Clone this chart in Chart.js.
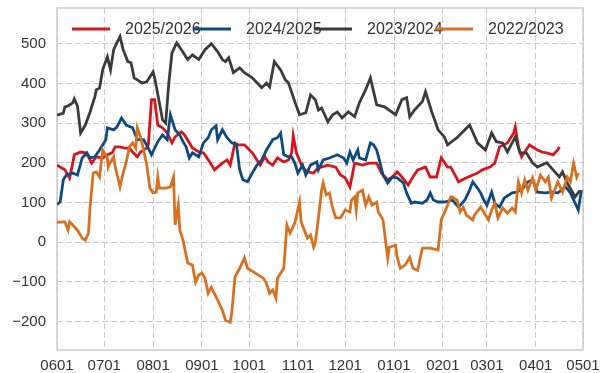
<!DOCTYPE html>
<html>
<head>
<meta charset="utf-8">
<script src="https://cdn.jsdelivr.net/npm/chart.js@4.4.1/dist/chart.umd.min.js"></script>
<style>
    html, body { margin: 0; padding: 0; background: #fff; }
    #wrap { width: 601px; height: 373px; }
</style>
</head>
<body>
<div id="wrap"><canvas id="seasonChart" width="601" height="373"></canvas></div>
<script>
// 各季資料：[距 6/1 天數, 數值]
const season2526 = [[0,194],[5,182],[8,161],[10,199],[11,220],[15,227],[18,225],[20,215],[22,199],[25,215],[29,212],[32,220],[35,225],[37,240],[40,240],[43,237],[46,237],[48,227],[51,215],[53,227],[57,237],[58,245],[60,359],[62,359],[64,295],[67,288],[70,275],[73,250],[75,265],[79,278],[81,270],[86,237],[90,227],[93,225],[97,202],[100,182],[105,199],[108,207],[110,194],[113,250],[115,245],[119,245],[124,225],[129,194],[132,215],[134,202],[137,194],[140,212],[144,202],[147,207],[149,225],[150,268],[152,225],[156,187],[159,177],[163,174],[166,189],[168,189],[172,194],[177,189],[180,169],[183,162],[186,139],[189,199],[194,194],[198,199],[203,199],[206,174],[210,157],[213,164],[216,177],[219,164],[223,144],[226,164],[229,182],[234,189],[237,164],[241,164],[244,212],[248,189],[250,189],[255,152],[260,162],[267,174],[270,182],[275,189],[278,199],[281,240],[286,250],[290,275],[291,290],[293,240],[295,215],[300,245],[305,232],[308,227],[311,225],[315,220],[318,232],[319,240]];
const season2425 = [[0,95],[2,101],[4,157],[6,169],[10,174],[13,169],[16,212],[19,225],[21,212],[24,215],[27,232],[31,258],[32,288],[36,283],[38,290],[41,313],[44,295],[48,288],[51,258],[55,258],[58,237],[60,220],[64,253],[67,270],[70,258],[72,321],[75,283],[78,270],[80,253],[82,240],[84,212],[86,225],[90,215],[93,250],[96,263],[98,283],[101,293],[102,258],[105,283],[108,263],[111,250],[114,245],[116,182],[118,157],[121,152],[124,174],[127,194],[130,207],[133,232],[137,258],[140,263],[142,275],[144,220],[147,215],[149,215],[151,199],[153,174],[156,194],[158,169],[161,194],[165,202],[166,182],[169,207],[173,212],[178,220],[182,212],[184,199],[186,227],[188,207],[191,232],[192,212],[196,207],[199,250],[201,245],[203,232],[205,202],[207,169],[210,149],[213,164],[216,162],[220,149],[222,124],[225,98],[227,101],[232,98],[235,106],[237,124],[239,106],[242,101],[246,101],[251,106],[255,88],[259,106],[262,131],[264,152],[267,136],[269,124],[271,106],[273,93],[276,126],[278,98],[281,88],[284,111],[289,124],[292,126],[296,136],[299,152],[302,157],[305,126],[310,124],[314,126],[318,124],[323,139],[326,124],[329,98],[331,81],[333,131]];
const season2324 = [[0,320],[4,325],[5,341],[7,343],[10,351],[11,361],[13,343],[15,275],[18,295],[21,328],[24,366],[25,384],[27,388],[29,434],[32,467],[34,434],[36,485],[38,502],[40,518],[42,485],[45,455],[47,452],[49,414],[51,409],[54,401],[57,404],[61,429],[62,414],[65,351],[67,308],[69,300],[71,401],[73,477],[76,502],[79,485],[83,460],[86,472],[90,460],[94,485],[98,500],[102,480],[105,460],[107,455],[109,465],[112,427],[116,439],[119,427],[124,414],[130,389],[133,401],[135,391],[138,455],[142,434],[145,409],[147,401],[151,354],[154,321],[158,326],[161,371],[164,359],[166,333],[168,338],[172,303],[175,321],[178,328],[181,313],[185,328],[189,316],[192,351],[196,384],[199,414],[203,346],[208,341],[215,321],[219,359],[222,364],[224,316],[227,333],[232,354],[234,379],[238,328],[242,283],[246,265],[248,245],[254,263],[262,295],[267,250],[272,232],[276,275],[279,253],[283,250],[286,227],[291,265],[294,225],[298,225],[302,200],[305,189],[311,200],[315,182],[319,164],[321,177],[324,149],[329,114],[332,130]];
const season2223 = [[0,50],[5,51],[7,30],[8,51],[10,43],[13,30],[16,10],[18,5],[20,23],[21,89],[23,174],[25,177],[27,164],[29,232],[32,212],[32.5,189],[34,202],[36,215],[37,189],[39,157],[40,139],[42,174],[44,202],[46,240],[48,250],[50,237],[51,288],[53,265],[55,232],[57,194],[59,136],[61,124],[63,126],[64,164],[65,136],[69,136],[72,139],[74,164],[75,43],[77,93],[78,30],[80,5],[83,-53],[86,-58],[88,-101],[90,-83],[92,-78],[94,-91],[96,-129],[98,-114],[102,-146],[105,-172],[107,-197],[110,-202],[111,-177],[113,-88],[116,-66],[119,-40],[121,-66],[131,-91],[133,-104],[135,-129],[137,-121],[139,-141],[140,-91],[144,-66],[146,43],[148,23],[151,48],[154,101],[155,51],[159,10],[161,18],[163,-13],[164,-3],[166,61],[168,131],[169,149],[171,119],[173,124],[175,86],[177,61],[180,61],[183,81],[186,76],[187,106],[189,114],[190,81],[191,124],[194,131],[196,93],[198,114],[200,93],[203,101],[204,76],[207,56],[210,-40],[211,-13],[215,-8],[216,-38],[218,-66],[221,-58],[224,-38],[226,-66],[229,-71],[232,-15],[237,-15],[242,-20],[244,56],[248,93],[250,114],[251,114],[254,106],[256,76],[258,88],[260,68],[264,56],[265,68],[269,88],[271,76],[274,56],[276,81],[278,98],[280,61],[283,86],[286,73],[289,86],[291,76],[293,152],[295,124],[297,157],[299,131],[302,162],[304,131],[307,169],[310,152],[312,164],[314,111],[318,152],[321,126],[324,164],[326,152],[328,199],[330,164],[331,174]];

const seasonLabels = ["2025/2026", "2024/2025", "2023/2024", "2022/2023"];
const seasonColors = ["#d7151f", "#0e4a7e", "#3b3b3b", "#d8711f"];

// X 軸：每月 1 日（距 6/1 天數）
const monthDays = [0, 30, 61, 92, 122, 153, 183, 214, 245, 273, 304, 334];
const monthLabels = ["0601", "0701", "0801", "0901", "1001", "1101", "1201", "0101", "0201", "0301", "0401", "0501"];
const yTicks = [-200, -100, 0, 100, 200, 300, 400, 500];

const toXY = arr => arr.map(p => ({ x: p[0], y: p[1] }));
const allSeasons = [season2526, season2425, season2324, season2223];

// 外框
const framePlugin = {
    id: "frame",
    beforeDatasetsDraw(chart) {
        const { ctx, chartArea: a } = chart;
        ctx.save();
        ctx.strokeStyle = "#cccccc";
        ctx.lineWidth = 1.5;
        ctx.strokeRect(a.left, a.top, a.right - a.left, a.bottom - a.top);
        ctx.restore();
    }
};

// 圖例（畫在圖內上方）
const topLegend = {
    id: "topLegend",
    afterDatasetsDraw(chart) {
        const { ctx, chartArea: a } = chart;
        const y = a.top + 21;
        ctx.save();
        ctx.font = "16px 'Liberation Sans', Arial, sans-serif";
        ctx.textBaseline = "middle";
        chart.data.datasets.forEach((ds, i) => {
            const x = a.left + 15 + i * 121;
            ctx.strokeStyle = ds.borderColor;
            ctx.lineWidth = 3;
            ctx.beginPath();
            ctx.moveTo(x, y);
            ctx.lineTo(x + 38, y);
            ctx.stroke();
            ctx.fillStyle = "#333333";
            ctx.fillText(ds.label, x + 53, y + 1);
        });
        ctx.restore();
    }
};

const tickFont = { family: "'Liberation Sans', Arial, sans-serif", size: 15 };

new Chart(document.getElementById("seasonChart").getContext("2d"), {
    type: "line",
    data: {
        datasets: allSeasons.map((s, i) => ({
            label: seasonLabels[i],
            data: toXY(s),
            borderColor: seasonColors[i],
            backgroundColor: seasonColors[i],
            borderWidth: 2.8,
            pointRadius: 0,
            tension: 0,
            fill: false,
            order: 4 - i
        }))
    },
    options: {
        responsive: false,
        animation: false,
        layout: { padding: { left: 0, right: 18, top: 8, bottom: 0 } },
        plugins: {
            legend: { display: false },
            tooltip: { enabled: false }
        },
        scales: {
            x: {
                type: "linear",
                min: 0,
                max: 334,
                afterBuildTicks: s => { s.ticks = monthDays.map(v => ({ value: v })); },
                afterFit: s => { s.height = 23; s.paddingLeft = 0; s.paddingRight = 0; },
                grid: { color: "#c8c8c8", lineWidth: 1, drawTicks: false },
                border: { display: false, dash: [6, 3] },
                ticks: {
                    color: "#333333",
                    font: tickFont,
                    padding: 7,
                    maxRotation: 0,
                    autoSkip: false,
                    callback: v => monthLabels[monthDays.indexOf(v)]
                }
            },
            y: {
                min: -272,
                max: 590,
                afterBuildTicks: s => { s.ticks = yTicks.map(v => ({ value: v })); },
                afterFit: s => { s.width = 57; s.paddingTop = 0; s.paddingBottom = 0; },
                grid: { color: "#c8c8c8", lineWidth: 1, drawTicks: false },
                border: { display: false, dash: [6, 3] },
                ticks: {
                    color: "#333333",
                    font: tickFont,
                    padding: 11,
                    callback: v => v < 0 ? "\u2212" + Math.abs(v) : String(v)
                }
            }
        }
    },
    plugins: [framePlugin, topLegend]
});
</script>
</body>
</html>
